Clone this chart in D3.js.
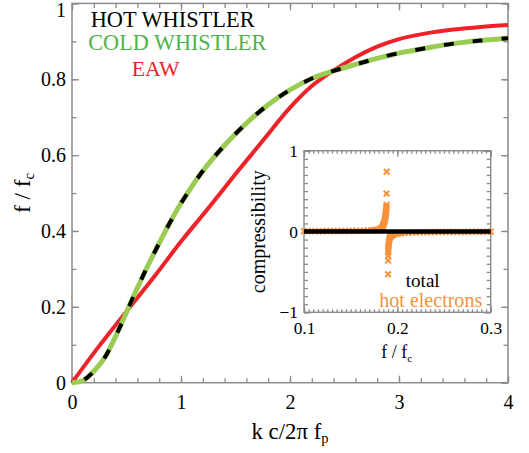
<!DOCTYPE html>
<html><head><meta charset="utf-8">
<script src="https://cdn.jsdelivr.net/npm/d3@7"></script>
<style>
body{margin:0;background:#fff}
svg{display:block}
svg text{font-family:"Liberation Serif","Times New Roman",Times,"DejaVu Serif","Noto Serif",serif}
</style>
</head><body>
<svg id="c" width="529" height="453"></svg>
<script>
// ---------- data ----------
const waveK = [0,0.1,0.2,0.3,0.4,0.5,0.6,0.7,0.8,0.9,1.0,1.2,1.4,1.6,1.8,2.0,2.2,2.4,2.6,2.8,3.0,3.25,3.5,3.75,4.0];
const coldWhistler = [0,0.006,0.03,0.066,0.122,0.186,0.25,0.311,0.368,0.423,0.473,0.558,0.626,0.684,0.733,0.772,0.802,0.822,0.839,0.855,0.869,0.882,0.894,0.902,0.908];
const hotWhistler  = [0,0.006,0.03,0.066,0.122,0.186,0.25,0.311,0.368,0.423,0.473,0.558,0.626,0.684,0.733,0.772,0.802,0.822,0.839,0.855,0.869,0.882,0.894,0.902,0.908];
const eawK = [0,0.25,0.5,0.75,1,1.25,1.5,1.75,2,2.2,2.4,2.6,2.8,3,3.25,3.5,3.75,4];
const eaw  = [0,0.097,0.188,0.278,0.372,0.46,0.55,0.638,0.725,0.782,0.823,0.858,0.886,0.906,0.921,0.931,0.938,0.943];

const xMajor = [0,1,2,3,4];
const yMajor = [0,0.2,0.4,0.6,0.8,1];
const legendNames = ["HOT WHISTLER","COLD WHISTLER","EAW"];

// inset: compressibility vs f/fc
const totalF = [0.1,0.15,0.2,0.25,0.3];
const totalC = [0,0,0,0,0];
const hotElectrons = [
 [0.100,0.004],[0.104,0.004],[0.108,0.004],[0.112,0.004],[0.116,0.004],[0.120,0.004],[0.124,0.005],[0.128,0.005],
 [0.132,0.005],[0.136,0.005],[0.140,0.006],[0.144,0.006],[0.148,0.006],[0.152,0.007],[0.156,0.008],[0.160,0.009],
 [0.164,0.010],[0.168,0.012],[0.172,0.014],[0.175,0.017],[0.177,0.020],[0.179,0.024],[0.181,0.030],[0.182,0.036],
 [0.183,0.044],[0.1838,0.055],[0.1845,0.068],[0.185,0.082],[0.1855,0.097],[0.1859,0.112],[0.1862,0.127],[0.1865,0.142],
 [0.1868,0.157],[0.1871,0.172],[0.1873,0.187],[0.1875,0.202],[0.1877,0.217],[0.1878,0.232],[0.1879,0.247],[0.1880,0.262],
 [0.1881,0.277],[0.1882,0.292],[0.1883,0.31],[0.1884,0.33],[0.1884,0.47],[0.1885,0.74],
 [0.1901,-0.53],[0.1901,-0.36],[0.1902,-0.30],[0.1902,-0.26],[0.1903,-0.23],[0.1904,-0.205],[0.1905,-0.185],[0.1906,-0.165],
 [0.1908,-0.145],[0.1910,-0.125],[0.1913,-0.105],[0.1917,-0.088],[0.1922,-0.074],[0.1928,-0.063],[0.1935,-0.054],[0.1945,-0.046],
 [0.1955,-0.040],[0.197,-0.034],[0.199,-0.029],[0.201,-0.025],[0.204,-0.021],[0.208,-0.018],[0.212,-0.015],[0.216,-0.013],
 [0.220,-0.011],[0.224,-0.010],[0.228,-0.009],[0.232,-0.008],[0.236,-0.008],[0.240,-0.007],[0.244,-0.007],[0.248,-0.006],
 [0.252,-0.006],[0.256,-0.006],[0.260,-0.005],[0.264,-0.005],[0.268,-0.005],[0.272,-0.005],[0.276,-0.004],[0.280,-0.004],
 [0.284,-0.004],[0.288,-0.004],[0.292,-0.004],[0.296,-0.004],[0.300,-0.004]
];
const insetXMajor = [0.1,0.2,0.3];
const insetYMajor = [-1,0,1];
const insetLegend = ["total","hot electrons"];

// ---------- styles ----------
const RED = "#ee2228", GREEN = "#9acb52", GREEN_TXT = "#4db449", ORANGE = "#f7923a", FRAME = "#8a8a8a";

const svg = d3.select("#c");
const M = {l:72, r:508, t:3.4, b:382.7};
const x = d3.scaleLinear().domain([0,4]).range([M.l, M.r]);
const y = d3.scaleLinear().domain([0,1]).range([M.b, M.t]);

// scale a text's font so that it spans the width seen in the reference
function fit(sel, w){
  const L = sel.node().getComputedTextLength();
  if (!L) return 1;
  const r = w / L;
  sel.attr("font-size", +sel.attr("font-size") * r);
  sel.selectAll("tspan").each(function(){
    const t = d3.select(this);
    if (t.attr("font-size")) t.attr("font-size", +t.attr("font-size") * r);
    if (t.attr("dy")) t.attr("dy", +t.attr("dy") * r);
  });
  return r;
}

function tickAxis(g, axis, vals, size, fmt, pad){
  const a = axis.tickValues(vals).tickSize(size).tickSizeOuter(0);
  if (fmt) a.tickFormat(fmt); else a.tickFormat("");
  if (pad !== undefined) a.tickPadding(pad);
  g.call(a);
  g.attr("font-family", null);
  g.select(".domain").remove();
  g.selectAll(".tick line").attr("stroke", FRAME).attr("stroke-width", 1.3);
  return g;
}
const xMinor = d3.range(0, 4.0001, 0.2);
const yMinor = d3.range(0, 1.0001, 0.1);

// measure the font once, for tick labels
const probe = svg.append("text").attr("font-size",20).text("0.8");
const tickR = 25 / probe.node().getComputedTextLength();
probe.text("0.1");
const itickR = 21.7 / probe.node().getComputedTextLength();
probe.remove();
const mainTickFS = 20 * tickR, insetTickFS = 20 * itickR;

// main ticks
tickAxis(svg.append("g").attr("transform",`translate(0,${M.b})`), d3.axisBottom(x), xMinor, -4.5);
tickAxis(svg.append("g").attr("transform",`translate(0,${M.t})`), d3.axisTop(x), xMinor, -4.5);
tickAxis(svg.append("g").attr("transform",`translate(${M.l},0)`), d3.axisLeft(y), yMinor, -4.5);
tickAxis(svg.append("g").attr("transform",`translate(${M.r},0)`), d3.axisRight(y), yMinor, -4.5);
const gxb = tickAxis(svg.append("g").attr("transform",`translate(0,${M.b})`), d3.axisBottom(x), xMajor, -7, d3.format("d"), 12);
tickAxis(svg.append("g").attr("transform",`translate(0,${M.t})`), d3.axisTop(x), xMajor, -7);
const gyl = tickAxis(svg.append("g").attr("transform",`translate(${M.l},0)`), d3.axisLeft(y), yMajor, -7, d=> d===0?"0":(d===1?"1":d3.format(".1f")(d)), 6);
tickAxis(svg.append("g").attr("transform",`translate(${M.r},0)`), d3.axisRight(y), yMajor, -7);
[gxb, gyl].forEach(g=> g.selectAll(".tick text").attr("font-size",mainTickFS).attr("fill","#000"));
gyl.selectAll(".tick").filter(d=>d===1).select("text").attr("y",7);

// frame
svg.append("rect").attr("x",M.l).attr("y",M.t).attr("width",M.r-M.l).attr("height",M.b-M.t)
  .attr("fill","none").attr("stroke",FRAME).attr("stroke-width",1.5);

// curves
const line = d3.line().x(d=>x(d[0])).y(d=>y(d[1])).curve(d3.curveCatmullRom.alpha(0.5));
svg.append("path").datum(eawK.map((k,i)=>[k,eaw[i]])).attr("d",line)
  .attr("fill","none").attr("stroke",RED).attr("stroke-width",4);
svg.append("path").datum(waveK.map((k,i)=>[k,coldWhistler[i]])).attr("d",line)
  .attr("fill","none").attr("stroke",GREEN).attr("stroke-width",5);
svg.append("path").datum(waveK.map((k,i)=>[k,hotWhistler[i]])).attr("d",line)
  .attr("fill","none").attr("stroke","#000").attr("stroke-width",4)
  .attr("stroke-dasharray","10,19").attr("stroke-dashoffset",16);

// legend
const legCol = ["#000", GREEN_TXT, RED];
const legPos = [[90.7,26.7],[88.3,50],[131.7,76]];
const legW = [164,178,48];
legendNames.forEach((n,i)=> fit(svg.append("text").attr("x",legPos[i][0]).attr("y",legPos[i][1])
  .attr("font-size",22).attr("fill",legCol[i]).text(n), legW[i]));

// axis labels
const xl = svg.append("text").attr("x",290).attr("y",439).attr("text-anchor","middle").attr("font-size",22);
xl.append("tspan").text("k c/2\u03c0 f");
xl.append("tspan").attr("font-size",14).attr("dy",4).text("p");
fit(xl, 77);
const yl = svg.append("text").attr("transform","translate(30,193) rotate(-90)").attr("text-anchor","middle").attr("font-size",22);
yl.append("tspan").text("f / f");
yl.append("tspan").attr("font-size",14).attr("dy",4).text("c");
fit(yl, 40);

// ---------- inset ----------
const I = {l:304, r:490.7, t:150.7, b:312.3};
const ix = d3.scaleLinear().domain([0.1,0.3]).range([I.l, I.r]);
const iy = d3.scaleLinear().domain([-1,1]).range([I.b, I.t]);
svg.append("rect").attr("x",I.l).attr("y",I.t).attr("width",I.r-I.l).attr("height",I.b-I.t).attr("fill","#fff");

const ixMinor = d3.range(0.1, 0.3001, 0.005);
const iyMinor = d3.range(-1, 1.0001, 0.1);
tickAxis(svg.append("g").attr("transform",`translate(0,${I.b})`), d3.axisBottom(ix), ixMinor, -3);
tickAxis(svg.append("g").attr("transform",`translate(0,${I.t})`), d3.axisTop(ix), ixMinor, -3);
tickAxis(svg.append("g").attr("transform",`translate(${I.l},0)`), d3.axisLeft(iy), iyMinor, -4);
tickAxis(svg.append("g").attr("transform",`translate(${I.r},0)`), d3.axisRight(iy), iyMinor, -4);
const ixb = tickAxis(svg.append("g").attr("transform",`translate(0,${I.b})`), d3.axisBottom(ix), insetXMajor, -6, d3.format(".1f"), 9.5);
tickAxis(svg.append("g").attr("transform",`translate(0,${I.t})`), d3.axisTop(ix), insetXMajor, -6);
const iyl = tickAxis(svg.append("g").attr("transform",`translate(${I.l},0)`), d3.axisLeft(iy), insetYMajor, -7, d=> d<0?"\u2212"+Math.abs(d):String(d), 6);
tickAxis(svg.append("g").attr("transform",`translate(${I.r},0)`), d3.axisRight(iy), insetYMajor, -7);
[ixb, iyl].forEach(g=> g.selectAll(".tick text").attr("font-size",insetTickFS).attr("fill","#000"));

svg.append("rect").attr("x",I.l).attr("y",I.t).attr("width",I.r-I.l).attr("height",I.b-I.t)
  .attr("fill","none").attr("stroke",FRAME).attr("stroke-width",1.4);

// hot electron crosses
const cs = 2.8;
svg.append("g").selectAll("path").data(hotElectrons).join("path")
  .attr("d", d=>{const px=ix(d[0]), py=iy(d[1]);
     return `M${px-cs},${py-cs}L${px+cs},${py+cs}M${px-cs},${py+cs}L${px+cs},${py-cs}`;})
  .attr("stroke",ORANGE).attr("stroke-width",2).attr("fill","none");
// total
svg.append("path").datum(totalF.map((f,i)=>[f,totalC[i]]))
  .attr("d", d3.line().x(d=>ix(d[0])).y(d=>iy(d[1])))
  .attr("stroke","#000").attr("stroke-width",4.5).attr("fill","none");

// inset legend
fit(svg.append("text").attr("x",422.7).attr("y",286.7).attr("text-anchor","middle").attr("font-size",20).attr("fill","#000").text(insetLegend[0]), 34);
fit(svg.append("text").attr("x",379.3).attr("y",306.7).attr("font-size",20).attr("fill",ORANGE).text(insetLegend[1]), 103);

// inset labels
const ixl = svg.append("text").attr("x",396.7).attr("y",358).attr("text-anchor","middle").attr("font-size",19);
ixl.append("tspan").text("f / f");
ixl.append("tspan").attr("font-size",12).attr("dy",4).text("c");
fit(ixl, 31);
fit(svg.append("text").attr("transform","translate(265,231.7) rotate(-90)").attr("text-anchor","middle")
  .attr("font-size",20).text("compressibility"), 123);
</script>
</body></html>
